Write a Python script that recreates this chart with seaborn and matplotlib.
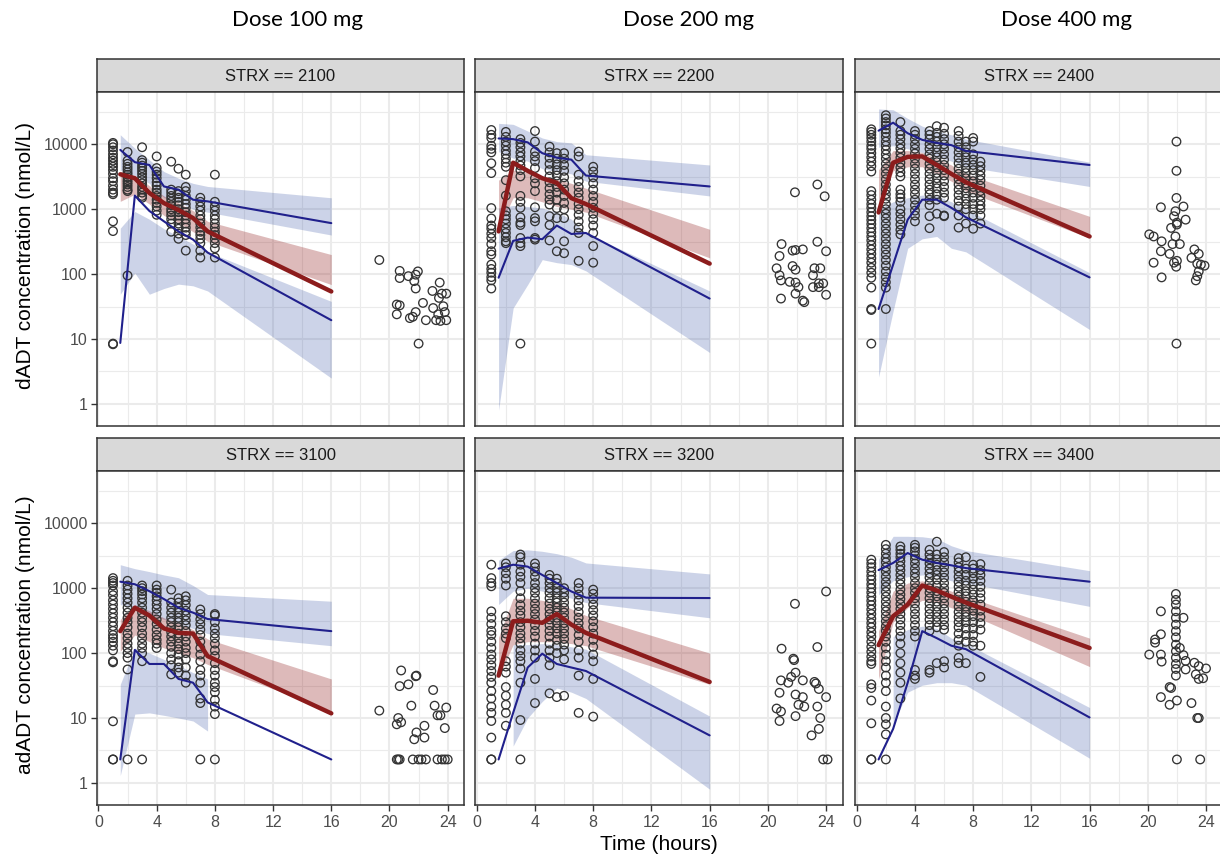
import numpy as np
import pandas as pd
import matplotlib
matplotlib.use("Agg")
import matplotlib.pyplot as plt
from matplotlib.ticker import FixedLocator, NullFormatter
import seaborn as sns

# ---------------- data ----------------
doses = ["Dose 100 mg", "Dose 200 mg", "Dose 400 mg"]
strx = ["2100", "2200", "2400", "3100", "3200", "3400"]
row_labels = ["dADT concentration (nmol/L)", "adADT concentration (nmol/L)"]
y_ticks = [1, 10, 100, 1000, 10000]
x_ticks = [0, 4, 8, 12, 16, 20, 24]

# observed concentrations by nominal time
obs_2100 = {
    1.0: [10500, 10000, 9000, 8000, 7000, 6200, 5600, 5000, 4500, 4000, 3500, 3000, 2700, 2300, 2000, 1800, 1700, 650, 460, 8.5, 8.3],
    2.0: [7600, 5600, 5000, 4500, 4100, 3700, 3400, 3100, 2800, 2600, 2400, 2200, 2000, 1900, 95],
    3.0: [9000, 5700, 5200, 4700, 4300, 3900, 3500, 3100, 2800, 2500, 2200, 2000, 1800, 1600, 1500],
    4.0: [6500, 4300, 3800, 3400, 3000, 2600, 2300, 2000, 1800, 1600, 1400, 1250, 1100, 950, 820],
    5.0: [5400, 2000, 1800, 1600, 1450, 1300, 1150, 1000, 900, 800, 700, 600, 450],
    5.5: [4200, 1900, 1700, 1500, 1300, 1150, 1000, 900, 800, 700, 600, 500, 420, 350],
    6.0: [3400, 2200, 1900, 1600, 1400, 1200, 1050, 900, 800, 700, 600, 520, 450, 400, 230],
    7.0: [1500, 1300, 1100, 950, 800, 700, 600, 520, 450, 400, 350, 300, 230, 180],
    8.0: [3400, 1300, 1100, 950, 800, 700, 600, 520, 450, 400, 350, 300, 250, 180],
}
late_t_2100 = [19.3, 20.7, 20.7, 21.3, 21.8, 21.95, 21.7, 21.8, 20.5, 20.7, 20.5, 21.4, 21.6, 21.8, 22.0, 22.3, 22.5, 22.95, 23.45, 23.6, 23.9, 23.4, 23.0, 23.7, 23.35, 23.8, 23.2, 23.5, 23.9]
late_c_2100 = [165, 112, 87, 93, 98, 110, 78, 60, 34, 33, 24, 21, 22, 26, 8.5, 36, 19.5, 55, 74, 50, 50, 43, 30, 32, 24, 26, 19.5, 19, 19.5]

obs_2200 = {
    1.0: [16600, 14000, 12500, 9500, 8500, 7500, 5100, 3600, 1040, 720, 560, 500, 420, 360, 290, 225, 200, 140, 120, 105, 90, 80, 60],
    2.0: [15500, 13000, 11000, 9500, 8000, 7000, 6000, 5200, 4500, 2800, 1620, 930, 800, 700, 600, 500, 430, 370, 320, 300],
    3.0: [12000, 10500, 9000, 7500, 6500, 5500, 4700, 4000, 3200, 1600, 1300, 1050, 750, 620, 570, 360, 300, 270, 8.5],
    4.0: [16000, 11000, 7700, 6500, 5500, 4300, 3000, 2500, 1900, 1070, 730, 650, 360, 340],
    5.0: [9200, 7500, 6200, 5000, 4000, 3200, 2600, 2100, 1700, 1400, 1180, 780, 570, 330],
    5.5: [7300, 6000, 4900, 4000, 3300, 2700, 2200, 1800, 1400, 1040, 730, 225],
    6.0: [7300, 6000, 4800, 3900, 3100, 2500, 2000, 1600, 1250, 1000, 730, 320, 210],
    7.0: [7700, 6500, 3400, 2700, 2200, 1800, 1500, 1200, 1000, 820, 650, 520, 430, 160],
    8.0: [4500, 3800, 3100, 2500, 2000, 1600, 1300, 1050, 850, 700, 560, 430, 270, 150],
}
late_t_2200 = [21.86, 23.4, 23.9, 20.94, 20.8, 20.6, 20.8, 20.9, 20.9, 21.5, 21.7, 21.9, 22.4, 21.7, 21.9, 21.9, 22.1, 21.9, 22.4, 22.5, 23.4, 24.0, 23.2, 23.6, 23.1, 23.5, 23.8, 23.1, 23.5, 24.0]
late_c_2200 = [1820, 2400, 1580, 290, 190, 123, 96, 80, 42, 76, 230, 235, 240, 133, 117, 74, 63, 50, 39, 37, 315, 225, 123, 123, 96, 72, 72, 63, 63, 48]

obs_2400 = {
    1.0: [17000, 15500, 14000, 12500, 11000, 9500, 8500, 7300, 6300, 5400, 4600, 3800, 1900, 1650, 1400, 1200, 1050, 900, 780, 680, 590, 510, 440, 380, 330, 280, 240, 205, 175, 150, 125, 105, 88, 62, 29, 28, 8.5],
    2.0: [28000, 25000, 22000, 19500, 17000, 15000, 13000, 11000, 9500, 8200, 7000, 6000, 5000, 4200, 3500, 2900, 2400, 2000, 1700, 1450, 1200, 1000, 850, 720, 600, 500, 420, 350, 290, 240, 200, 165, 135, 110, 90, 75, 62, 29],
    3.0: [22000, 16000, 14000, 12000, 10000, 8600, 7300, 6200, 5200, 4400, 3700, 3200, 2000, 1700, 1500, 1300, 1000, 850, 700, 580, 480, 410],
    4.0: [16000, 14000, 12000, 10000, 8500, 7200, 6000, 5000, 4200, 3500, 2900, 2400, 2000, 1700, 1400, 1150, 950, 800, 650],
    5.0: [16000, 14000, 12000, 10000, 8500, 7000, 6000, 5000, 4200, 3500, 2900, 2400, 2000, 1700, 1400, 1150, 780, 510],
    5.5: [19000, 15000, 13000, 11000, 9000, 7500, 6300, 5300, 4400, 3600, 3000, 2500, 2100, 1700, 1400, 850],
    6.0: [18000, 14500, 12000, 10000, 8500, 7000, 5800, 4800, 4000, 3300, 2700, 2200, 1800, 1500, 800, 780],
    7.0: [16000, 13500, 11000, 9000, 7500, 6200, 5100, 4200, 3500, 2900, 2400, 2000, 1650, 1350, 1100, 800, 520],
    7.5: [11000, 9000, 7500, 6300, 5200, 4300, 3600, 3000, 2500, 2100, 1750, 1450, 1200, 1000, 600],
    8.0: [12500, 11000, 7000, 5800, 4800, 4000, 3300, 2700, 2200, 1800, 1500, 1200, 1000, 800, 500],
    8.5: [5400, 4600, 3900, 3300, 2800, 2300, 1900, 1600, 1350, 1150, 1000, 800, 600],
}
late_t_2400 = [21.97, 21.97, 21.97, 21.97, 20.9, 22.45, 21.9, 21.8, 22.6, 21.6, 22.0, 22.0, 20.1, 20.4, 20.95, 21.7, 22.2, 21.9, 23.2, 23.5, 20.9, 21.5, 20.4, 21.8, 22.0, 23.0, 21.95, 20.95, 23.4, 23.65, 23.9, 23.5, 23.4, 23.3]
late_c_2400 = [11000, 3900, 1490, 8.5, 1070, 1100, 930, 780, 690, 515, 620, 580, 410, 380, 320, 290, 290, 380, 240, 205, 225, 205, 150, 150, 160, 178, 130, 89, 145, 140, 135, 110, 93, 80]

obs_3100 = {
    1.0: [1430, 1300, 1200, 1100, 900, 780, 650, 560, 480, 410, 350, 300, 260, 220, 190, 170, 150, 130, 110, 75, 72, 8.9, 2.3, 2.3],
    2.0: [1300, 1100, 950, 820, 700, 600, 500, 420, 350, 300, 250, 200, 170, 140, 120, 100, 85, 56, 2.3],
    3.0: [1100, 1000, 900, 800, 700, 600, 500, 420, 350, 300, 250, 200, 170, 140, 120, 100, 75, 2.3],
    4.0: [1100, 950, 850, 750, 650, 560, 480, 400, 330, 280, 230, 190, 160, 140, 120],
    5.0: [950, 600, 500, 420, 350, 300, 250, 210, 180, 150, 125, 100, 80, 65, 47],
    5.5: [700, 600, 500, 420, 350, 300, 250, 200, 170, 140, 115, 95, 75, 60, 50],
    6.0: [750, 650, 550, 450, 380, 320, 270, 220, 180, 150, 120, 100, 80, 60, 45, 35],
    7.0: [470, 400, 330, 280, 230, 190, 150, 120, 95, 75, 55, 45, 35, 20, 17, 2.3],
    8.0: [400, 380, 300, 240, 200, 170, 140, 110, 90, 70, 55, 45, 35, 30, 25, 19, 15, 11.5, 2.3],
}
late_t_3100 = [19.3, 20.8, 20.7, 21.3, 21.8, 21.85, 21.5, 20.6, 20.5, 20.8, 21.85, 21.7, 22.4, 22.4, 23.0, 23.1, 23.3, 23.5, 23.9, 23.8, 20.5, 20.6, 20.7, 21.6, 22.0, 22.2, 22.5, 23.3, 23.6, 23.8, 24.0]
late_c_3100 = [13, 54, 31, 33, 44, 45, 15.5, 10, 8, 8.6, 6, 4.7, 5, 7.6, 27, 15.5, 11, 11, 14.5, 7, 2.3, 2.3, 2.3, 2.3, 2.3, 2.3, 2.3, 2.3, 2.3, 2.3, 2.3]

obs_3200 = {
    1.0: [2300, 1430, 1200, 1070, 440, 350, 280, 220, 190, 150, 120, 95, 80, 65, 53, 43, 35, 26, 20, 15, 12, 9, 5, 2.3, 2.3],
    2.0: [2400, 2100, 1700, 1400, 1100, 370, 300, 240, 200, 170, 75, 62, 50, 30, 22, 16, 12, 7.6],
    3.0: [3300, 3000, 2300, 1800, 1500, 1200, 900, 700, 550, 450, 380, 300, 250, 200, 170, 140, 110, 90, 75, 58, 35, 9.3, 2.3],
    4.0: [2400, 2100, 1800, 1500, 1200, 1000, 850, 700, 580, 480, 400, 330, 270, 220, 180, 140, 110, 85, 40, 17],
    5.0: [1600, 1400, 1200, 1000, 850, 700, 580, 480, 400, 330, 270, 220, 180, 140, 110, 85, 65, 24],
    5.5: [1400, 1200, 1000, 850, 700, 600, 500, 420, 350, 290, 240, 200, 160, 130, 100, 21],
    6.0: [1000, 850, 720, 600, 500, 420, 350, 290, 240, 200, 165, 135, 110, 80, 22],
    7.0: [1200, 1000, 800, 650, 530, 430, 350, 290, 240, 190, 150, 110, 85, 45, 12],
    8.0: [950, 820, 680, 560, 460, 380, 310, 250, 200, 160, 125, 95, 75, 40, 10.5],
}
late_t_3200 = [24.0, 21.86, 20.94, 23.4, 21.75, 21.8, 21.9, 21.6, 20.9, 21.4, 22.4, 23.2, 23.3, 23.5, 20.8, 21.9, 22.4, 24.0, 22.1, 22.5, 20.6, 20.9, 21.9, 23.4, 23.6, 20.8, 23.5, 23.0, 23.8, 24.1]
late_c_3200 = [890, 575, 117, 124, 82, 78, 50, 43, 38, 35, 38, 36, 34, 28, 24.5, 23, 21, 21, 16, 15, 14, 12.6, 10.7, 15, 10, 9, 6.8, 5.4, 2.3, 2.3]

obs_3400 = {
    1.0: [2750, 2400, 2100, 1800, 1550, 1350, 1150, 1000, 860, 740, 640, 550, 470, 400, 340, 290, 250, 210, 180, 150, 125, 105, 88, 75, 68, 33, 29, 18.6, 8.3, 2.3, 2.3],
    2.0: [4650, 4000, 3400, 2900, 2500, 2100, 1800, 1500, 1250, 1050, 880, 740, 620, 520, 440, 370, 310, 260, 220, 180, 150, 120, 95, 75, 60, 45, 35, 26, 15, 10, 8, 5.6, 2.3],
    3.0: [4400, 3900, 3400, 3000, 2600, 2200, 1900, 1600, 1350, 1150, 950, 800, 680, 570, 480, 400, 330, 270, 220, 180, 140, 100, 70, 50, 35, 20],
    4.0: [4650, 4200, 3700, 3200, 2800, 2400, 2000, 1700, 1450, 1200, 1000, 850, 700, 580, 480, 400, 330, 270, 220, 180, 55, 45, 40],
    5.0: [3900, 3300, 2800, 2400, 2000, 1700, 1450, 1200, 1000, 850, 700, 580, 480, 400, 330, 270, 220, 55, 50],
    5.5: [5200, 3300, 2800, 2300, 1900, 1600, 1350, 1100, 900, 750, 620, 520, 430, 360, 300, 250, 70],
    6.0: [3600, 3000, 2500, 2100, 1750, 1450, 1200, 1000, 850, 700, 580, 480, 400, 330, 270, 230, 75, 60],
    7.0: [2900, 2500, 2100, 1800, 1500, 1250, 1050, 880, 740, 620, 520, 430, 360, 300, 250, 200, 160, 130, 85, 70],
    7.5: [3000, 2000, 1600, 1300, 1100, 900, 750, 620, 520, 430, 360, 300, 240, 190, 150, 70],
    8.0: [2300, 2000, 1700, 1400, 1150, 950, 800, 650, 540, 450, 370, 300, 240, 190, 150, 130],
    8.5: [2350, 1900, 1600, 1300, 1050, 850, 700, 560, 450, 360, 290, 230, 130, 43],
}
late_t_3400 = [21.93] * 14 + [20.9, 22.45, 20.9, 20.5, 20.5, 20.1, 20.9, 20.95, 22.2, 22.45, 22.6, 23.2, 22.6, 23.5, 24.0, 23.3, 23.5, 23.8, 21.5, 21.6, 20.9, 21.5, 22.0, 23.0, 23.4, 23.5, 22.0, 23.6]
late_c_3400 = [815, 660, 560, 440, 350, 275, 218, 175, 135, 107, 85, 68, 57, 45,
               440, 350, 195, 162, 145, 95, 95, 74, 120, 93, 76, 71, 56, 63, 58, 47, 40, 41, 30, 29, 21, 16, 18.6, 17, 10, 10, 2.3, 2.3]

# VPC summaries: observed percentile lines and simulated CI bands per time bin
vpc_t = [1.5, 2.5, 3.5, 4.5, 5.5, 6.5, 7.5, 16]
nan = np.nan

p95_2100 = [8200, 5300, 4800, 2240, 2000, 1400, 1320, 610]
p50_2100 = [3450, 3000, 1780, 1240, 970, 730, 455, 54]
p05_2100 = [8.7, 1620, 940, 650, 455, 340, 215, 19.5]
b95_2100 = ([4000, 3300, 2500, 1500, 1300, 1000, 900, 400], [14000, 8700, 5750, 3800, 3000, 2500, 2240, 1500])
b50_2100 = ([1320, 1700, 1200, 800, 620, 450, 320, 69], [3800, 3300, 2300, 1600, 1250, 950, 650, 200])
b05_2100 = ([49, 104, 49, 60, 70, 66, 55, 2.5], [510, 920, 700, 500, 380, 290, 220, 38])

p95_2200 = [12300, 12000, 10700, 7300, 6200, 5800, 3300, 2240]
p50_2200 = [455, 5200, 3900, 3000, 2550, 1480, 1200, 145]
p05_2200 = [88, 325, 365, 345, 560, 415, 430, 42]
b95_2200 = ([7700, 6100, 5500, 4200, 3800, 3500, 2700, 1600], [21000, 20300, 16000, 12500, 11000, 10500, 6900, 4800])
b50_2200 = ([500, 1500, 1500, 1300, 1100, 1000, 900, 178], [2800, 4000, 3700, 3200, 2900, 2500, 2100, 490])
b05_2200 = ([0.8, 30, 69, 167, 150, 140, 112, 6.2], [1040, 1140, 1100, 1040, 900, 700, 430, 55])

p95_2400 = [16200, 21500, 14800, 11700, 10500, 9700, 7900, 4800]
p50_2400 = [890, 5200, 6400, 6500, 4800, 3500, 2600, 380]
p05_2400 = [29, 140, 690, 1400, 1400, 1050, 750, 89]
b95_2400 = ([9000, 9500, 8500, 7500, 6500, 5500, 4500, 2240], [35000, 34000, 25000, 19000, 16000, 14000, 12000, 5300])
b50_2400 = ([930, 3900, 4500, 4500, 3500, 2700, 1900, 360], [4050, 8000, 8000, 7500, 6000, 4800, 3500, 775])
b05_2400 = ([2.6, 27, 250, 350, 380, 250, 220, 14], [1000, 1300, 1500, 1650, 1600, 1300, 1000, 105])

p95_3100 = [1260, 1150, 900, 680, 500, 420, 335, 218]
p50_3100 = [218, 500, 380, 240, 205, 200, 90, 11.8]
p05_3100 = [2.3, 112, 68, 68, 40, 35, 17.4, 2.3]
b95_3100 = ([560, 480, 400, 330, 280, 240, 200, 130], [2300, 2000, 1800, 1600, 1450, 1100, 800, 630])
b50_3100 = ([107, 190, 150, 120, 100, 85, 67, 13], [330, 560, 450, 350, 290, 230, 165, 40])
b05_3100 = ([1.3, 11.5, 12, 11, 10, 9, 6.3, nan], [33, 120, 100, 80, 65, 50, 40, nan])

p95_3200 = [2000, 2300, 2150, 1600, 1200, 890, 715, 705]
p50_3200 = [45, 310, 315, 293, 400, 275, 205, 36]
p05_3200 = [2.3, 12, 60, 98, 68, 60, 53, 5.4]
b95_3200 = ([560, 900, 1000, 900, 800, 700, 600, 350], [2700, 3800, 3900, 3700, 3400, 3000, 2450, 1660])
b50_3200 = ([42, 135, 150, 150, 150, 140, 130, 33], [175, 700, 700, 650, 600, 480, 380, 100])
b05_3200 = ([nan, 3.7, 10, 18, 29, 25, 20, 0.8], [nan, 135, 135, 140, 135, 125, 115, 10.7])

p95_3400 = [1900, 2450, 3480, 2750, 2450, 2250, 2040, 1260]
p50_3400 = [133, 370, 560, 1100, 920, 740, 600, 120]
p05_3400 = [2.3, 6.8, 35, 218, 170, 130, 115, 10.2]
b95_3400 = ([790, 1300, 1500, 1600, 1500, 1300, 1200, 525], [2800, 6300, 6300, 6200, 5800, 4500, 3800, 1860])
b50_3400 = ([40, 300, 500, 650, 600, 500, 420, 62], [220, 900, 1200, 1300, 1100, 900, 750, 170])
b05_3400 = ([nan, 8, 25, 32, 35, 35, 32, 2.4], [nan, 180, 230, 260, 240, 170, 140, 14.5])

panel_obs = {"2100": (obs_2100, late_t_2100, late_c_2100), "2200": (obs_2200, late_t_2200, late_c_2200),
             "2400": (obs_2400, late_t_2400, late_c_2400), "3100": (obs_3100, late_t_3100, late_c_3100),
             "3200": (obs_3200, late_t_3200, late_c_3200), "3400": (obs_3400, late_t_3400, late_c_3400)}
panel_vpc = {"2100": (p95_2100, p50_2100, p05_2100, b95_2100, b50_2100, b05_2100),
             "2200": (p95_2200, p50_2200, p05_2200, b95_2200, b50_2200, b05_2200),
             "2400": (p95_2400, p50_2400, p05_2400, b95_2400, b50_2400, b05_2400),
             "3100": (p95_3100, p50_3100, p05_3100, b95_3100, b50_3100, b05_3100),
             "3200": (p95_3200, p50_3200, p05_3200, b95_3200, b50_3200, b05_3200),
             "3400": (p95_3400, p50_3400, p05_3400, b95_3400, b50_3400, b05_3400)}

# ---------------- style ----------------
sns.set_theme(style="white")
plt.rcParams["font.family"] = ["Liberation Sans", "DejaVu Sans"]

BLUE_LINE = "#20208c"
RED_LINE = "#8c1c1c"
BLUE_FILL = "#3653a4"
RED_FILL = "#901c1c"
BORDER = "#333333"

W, H = 1220, 859
fig = plt.figure(figsize=(W / 100, H / 100), dpi=100)


def rect(x0, y0, x1, y1):
    return [x0 / W, 1 - y1 / H, (x1 - x0) / W, (y1 - y0) / H]


col_x = [(96.7, 464.3), (475.0, 842.7), (855.0, 1222.6)]
row_y = [(59.3, 91.7, 426.0), (438.3, 470.7, 805.0)]

for i, key in enumerate(strx):
    r, c = divmod(i, 3)
    x0, x1 = col_x[c]
    ys, yp, yb = row_y[r]

    # strip
    sax = fig.add_axes(rect(x0, ys, x1, yp))
    sax.set_facecolor("#d9d9d9")
    sax.set_xticks([])
    sax.set_yticks([])
    for sp in sax.spines.values():
        sp.set_color(BORDER)
        sp.set_linewidth(1.1)
    sax.text(0.5, 0.48, f"STRX == {key}", ha="center", va="center", fontsize=12,
             color="#1a1a1a", transform=sax.transAxes)

    ax = fig.add_axes(rect(x0, yp, x1, yb))
    obs, lt, lc = panel_obs[key]
    tt, cc = [], []
    for t, vals in obs.items():
        tt += [t] * len(vals)
        cc += vals
    df = pd.DataFrame({"time": tt + list(lt), "conc": cc + list(lc)})

    p95, p50, p05, b95, b50, b05 = panel_vpc[key]
    vt = np.array(vpc_t)
    ax.fill_between(vt, b95[0], b95[1], color=BLUE_FILL, alpha=0.25, lw=0, zorder=1)
    ax.fill_between(vt, b05[0], b05[1], color=BLUE_FILL, alpha=0.25, lw=0, zorder=1)
    ax.fill_between(vt, b50[0], b50[1], color=RED_FILL, alpha=0.3, lw=0, zorder=1)

    sns.scatterplot(data=df, x="time", y="conc", ax=ax, marker="o", s=38,
                    facecolor="none", edgecolor="#333333", linewidth=0.95, zorder=2)

    vdf = pd.DataFrame({"time": vpc_t, "p95": p95, "p50": p50, "p05": p05})
    sns.lineplot(data=vdf, x="time", y="p95", ax=ax, color=BLUE_LINE, lw=1.5, estimator=None, sort=False, zorder=3)
    sns.lineplot(data=vdf, x="time", y="p05", ax=ax, color=BLUE_LINE, lw=1.5, estimator=None, sort=False, zorder=3)
    sns.lineplot(data=vdf, x="time", y="p50", ax=ax, color=RED_LINE, lw=3.2, estimator=None, sort=False, zorder=3)

    ax.set_yscale("log")
    ax.set_xlim(-0.12, 25.14)
    ax.set_ylim(10 ** -0.34, 10 ** 4.81)
    ax.set_xticks(x_ticks)
    ax.set_xticklabels([str(v) for v in x_ticks])
    ax.xaxis.set_minor_locator(FixedLocator([2, 6, 10, 14, 18, 22]))
    ax.set_yticks(y_ticks)
    ax.set_yticklabels([str(v) for v in y_ticks])
    ax.yaxis.set_minor_locator(FixedLocator([10 ** 0.5, 10 ** 1.5, 10 ** 2.5, 10 ** 3.5, 10 ** 4.5]))
    ax.yaxis.set_minor_formatter(NullFormatter())
    ax.set_xlabel("")
    ax.set_ylabel("")
    ax.set_axisbelow(True)
    ax.grid(True, which="major", color="#ebebeb", lw=1.5)
    ax.grid(True, which="minor", color="#ebebeb", lw=0.8)
    ax.set_facecolor("white")
    for sp in ax.spines.values():
        sp.set_color(BORDER)
        sp.set_linewidth(1.1)
    ax.tick_params(which="minor", length=0)
    ax.tick_params(which="major", length=4, width=1.0, color=BORDER, labelsize=11.5,
                   labelcolor="#4d4d4d", left=True, bottom=True)
    ax.tick_params(axis="y", pad=2.5)
    ax.tick_params(axis="x", pad=3.5)
    if r == 0:
        ax.tick_params(axis="x", length=0, labelbottom=False)
    if c > 0:
        ax.tick_params(axis="y", length=0, labelleft=False)

# column titles
for c, txt in enumerate(doses):
    xc = [297.5, 688.5, 1066.5][c]
    fig.text(xc / W, 1 - 20 / H, txt, ha="center", va="center", fontsize=16,
             family=["Lato", "DejaVu Sans"], color="black")

# y labels per row
for r, txt in enumerate(row_labels):
    ys, yp, yb = row_y[r]
    fig.text(25.5 / W, 1 - ((yp + yb) / 2 - 3) / H, txt, rotation=90, ha="center", va="center",
             fontsize=15, color="black")

fig.text(659 / W, 1 - 844 / H, "Time (hours)", ha="center", va="center", fontsize=15, color="black")

fig.savefig("out.png", dpi=100)
